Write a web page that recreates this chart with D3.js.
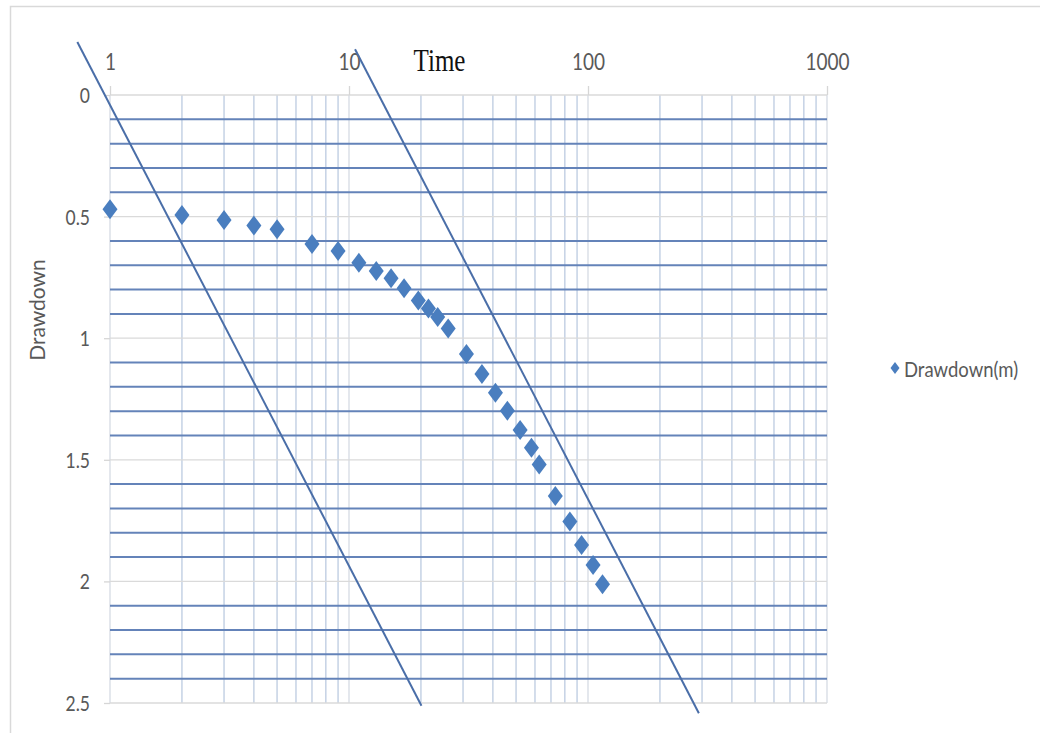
<!DOCTYPE html>
<html>
<head>
<meta charset="utf-8">
<script src="https://cdn.jsdelivr.net/npm/d3@7"></script>
<style>
  html, body { margin: 0; padding: 0; background: #fff; }
  svg { display: block; }
</style>
</head>
<body>
<svg id="chart" width="1040" height="733"></svg>
<script>
// ---- Data ----
const timeValues = [1, 2, 3, 4, 5, 7, 9, 11, 13, 15, 17, 19.5, 21.5, 23.5, 26, 31, 36, 41, 46, 52, 58, 62.5, 73, 84, 94, 105, 115];
const drawdownValues = [0.47, 0.493, 0.514, 0.537, 0.552, 0.613, 0.641, 0.69, 0.724, 0.754, 0.795, 0.845, 0.878, 0.913, 0.96, 1.065, 1.147, 1.224, 1.298, 1.377, 1.45, 1.519, 1.649, 1.754, 1.85, 1.933, 2.012];
const xTickValues = [1, 10, 100, 1000];
const yTickValues = [0, 0.5, 1, 1.5, 2, 2.5];
const fitLine1 = [[0.73, -0.218], [20.1, 2.511]];
const fitLine2 = [[10.6, -0.188], [291, 2.542]];
const seriesName = "Drawdown(m)";
const xTitle = "Time";
const yTitle = "Drawdown";

// ---- Layout ----
const svg = d3.select("#chart");
const L = 110, R = 827, T = 95, B = 703;
const x = d3.scaleLog().domain([1, 1000]).range([L, R]);
const y = d3.scaleLinear().domain([0, 2.5]).range([T, B]);

// outer border
svg.append("path").attr("d", `M10.5,733 L10.5,6.5 L1040,6.5`)
  .attr("fill", "none").attr("stroke", "#d9d9d9").attr("stroke-width", 1.5);

// vertical grid (minor log ticks)
const vTicks = x.ticks();
svg.append("g").selectAll("line").data(vTicks.filter(d => !xTickValues.includes(d))).join("line")
  .attr("x1", d => x(d)).attr("x2", d => x(d))
  .attr("y1", T).attr("y2", B)
  .attr("stroke", "#bccbe0").attr("stroke-width", 1.3);
svg.append("g").selectAll("line").data(xTickValues).join("line")
  .attr("x1", d => x(d)).attr("x2", d => x(d))
  .attr("y1", T).attr("y2", B)
  .attr("stroke", "#d6dbe3").attr("stroke-width", 1.3);

// horizontal major grid
svg.append("g").selectAll("line").data(yTickValues).join("line")
  .attr("x1", L).attr("x2", R)
  .attr("y1", d => y(d)).attr("y2", d => y(d))
  .attr("stroke", "#dadada").attr("stroke-width", 1.3);

// horizontal minor grid (blue)
const minorY = d3.range(0, 25).map(i => i / 10).filter(v => Math.abs(v * 2 - Math.round(v * 2)) > 1e-6);
svg.append("g").selectAll("line").data(minorY).join("line")
  .attr("x1", L).attr("x2", R)
  .attr("y1", d => y(d)).attr("y2", d => y(d))
  .attr("stroke", "#6483b9").attr("stroke-width", 2);

// top axis (Time)
const xAxis = d3.axisTop(x).tickValues(xTickValues).tickSize(9).tickPadding(0).tickFormat(d3.format("d"));
const gx = svg.append("g").attr("transform", `translate(0,${T})`).call(xAxis);
gx.select(".domain").remove();
gx.selectAll(".tick line").attr("stroke", "#d6d6d6").attr("stroke-width", 1.3);
gx.selectAll(".tick text")
  .attr("font-family", "Lato, 'Open Sans', sans-serif").attr("font-size", 19)
  .attr("fill", "#595959")
  .attr("y", -25 / 1.22).attr("dy", 0)
  .attr("transform", "scale(1,1.22)");

// left axis (Drawdown)
const yAxis = d3.axisLeft(y).tickValues(yTickValues).tickSize(6).tickPadding(0).tickFormat(d => String(d));
const gy = svg.append("g").attr("transform", `translate(${L},0)`).call(yAxis);
gy.select(".domain").remove();
gy.selectAll(".tick line").attr("stroke", "#d6d6d6").attr("stroke-width", 1.3);
gy.selectAll(".tick text")
  .attr("font-family", "Lato, 'Open Sans', sans-serif").attr("font-size", 17.5)
  .attr("fill", "#595959")
  .attr("x", -20).attr("dy", 0).attr("y", 7.5 / 1.23)
  .attr("transform", "scale(1,1.23)")
  .attr("text-anchor", "end");

// titles
svg.append("text")
  .attr("transform", `translate(439.5,71) scale(1,1.28)`)
  .attr("text-anchor", "middle")
  .attr("font-family", "'Liberation Serif', 'Times New Roman', serif")
  .attr("font-size", 25).attr("fill", "#111")
  .text(xTitle);

svg.append("text")
  .attr("transform", `translate(45,310) rotate(-90)`)
  .attr("text-anchor", "middle")
  .attr("font-family", "Lato, 'Open Sans', sans-serif")
  .attr("font-size", 21).attr("fill", "#595959")
  .text(yTitle);

// fitted straight lines
const lineGen = d3.line().x(d => x(d[0])).y(d => y(d[1]));
[fitLine1, fitLine2].forEach(pts => {
  svg.append("path").attr("d", lineGen(pts))
    .attr("fill", "none").attr("stroke", "#4a6ea8").attr("stroke-width", 2);
});

// data diamonds
const diamond = (hw, hh) => `M0,${-hh}L${hw},0L0,${hh}L${-hw},0Z`;
const pts = timeValues.map((t, i) => ({ t, s: drawdownValues[i] }));
svg.append("g").selectAll("path").data(pts).join("path")
  .attr("transform", d => `translate(${x(d.t)},${y(d.s)})`)
  .attr("d", diamond(7.5, 10))
  .attr("fill", "#4a7ebf");

// legend
const lg = svg.append("g").attr("transform", "translate(895,368)");
lg.append("path").attr("d", diamond(4.5, 6)).attr("fill", "#4a7ebf");
lg.append("text")
  .attr("transform", "translate(9,9) scale(1,1.18)")
  .attr("font-family", "Lato, 'Open Sans', sans-serif")
  .attr("font-size", 18.5).attr("fill", "#595959")
  .text(seriesName);
</script>
</body>
</html>
